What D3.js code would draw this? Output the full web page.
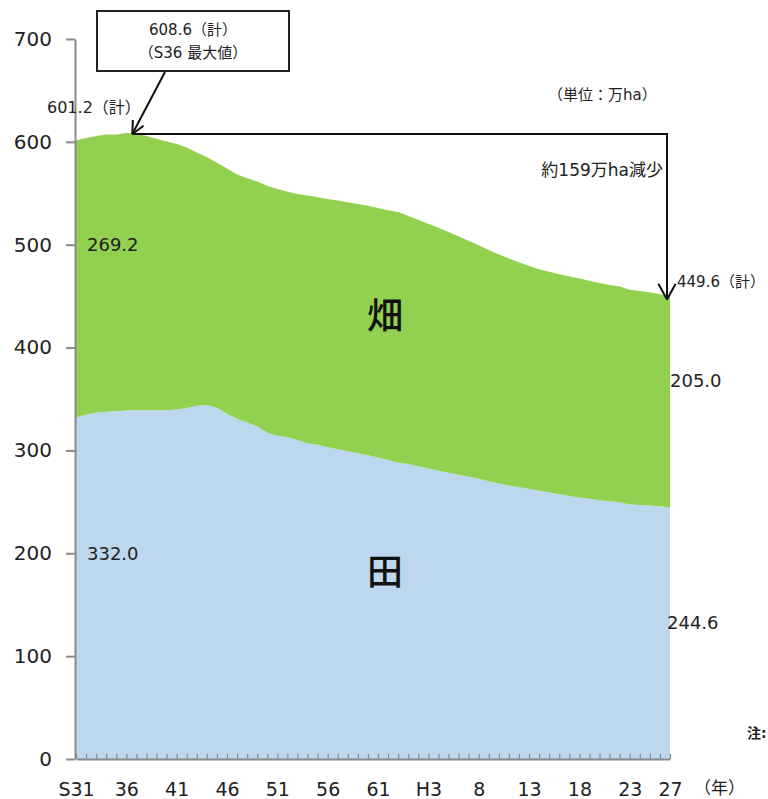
<!DOCTYPE html>
<html lang="ja">
<head>
<meta charset="utf-8">
<script src="https://cdn.jsdelivr.net/npm/d3@7"></script>
<style>
  html, body { margin: 0; padding: 0; background: #fff; }
  svg { display: block; }
  .lbl { font-family: "DejaVu Sans", "Noto Sans CJK JP", sans-serif; fill: #222; }
</style>
</head>
<body>
<svg id="chart" width="768" height="799"></svg>
<script>
// 耕地面積の推移（万ha）: 昭和31年〜平成27年
const years = [1956,1957,1958,1959,1960,1961,1962,1963,1964,1965,
               1966,1967,1968,1969,1970,1971,1972,1973,1974,1975,
               1976,1977,1978,1979,1980,1981,1982,1983,1984,1985,
               1986,1987,1988,1989,1990,1991,1992,1993,1994,1995,
               1996,1997,1998,1999,2000,2001,2002,2003,2004,2005,
               2006,2007,2008,2009,2010,2011,2012,2013,2014,2015];

// 田
const paddy = [332.0,334.9,336.6,337.5,338.1,338.8,339.0,339.1,339.1,339.1,
               339.9,341.3,343.4,344.1,341.5,335.6,330.9,327.1,323.4,317.1,
               314.3,312.9,310.2,307.1,305.5,303.1,301.2,299.2,297.2,295.2,
               293.2,290.6,288.3,286.8,284.6,282.5,280.2,278.2,276.4,274.5,
               272.4,270.1,267.9,265.9,264.1,262.4,260.7,259.2,257.5,255.6,
               254.3,253.0,251.6,250.6,249.6,247.4,246.9,246.5,245.8,244.6];

// 畑
const upland = [269.2,268.9,269.0,269.6,269.0,269.8,269.1,266.6,264.0,261.3,
                257.9,253.2,246.3,241.1,238.1,238.5,237.4,237.6,238.1,240.1,
                239.8,238.6,239.1,240.7,240.6,241.3,241.7,242.2,242.5,242.7,
                242.6,242.9,243.4,241.1,239.7,237.9,236.3,234.2,231.9,229.3,
                227.0,224.8,222.6,220.7,218.9,217.0,215.5,214.4,213.9,213.6,
                212.8,212.0,211.2,210.3,209.7,208.7,208.0,207.2,206.0,205.0];

// 計
const total = [601.2,603.8,605.6,607.1,607.1,608.6,608.1,605.7,603.1,600.4,
               597.8,594.5,589.7,585.2,579.6,574.1,568.3,564.7,561.5,557.2,
               554.1,551.5,549.3,547.8,546.1,544.4,542.9,541.4,539.7,537.9,
               535.8,533.5,531.7,527.9,524.3,520.4,516.5,512.4,508.3,503.8,
               499.4,494.9,490.5,486.6,483.0,479.4,476.2,473.6,471.4,469.2,
               467.1,465.0,462.8,460.9,459.3,456.1,454.9,453.7,451.8,449.6];

const xTickYears  = [1956,1961,1966,1971,1976,1981,1986,1991,1996,2001,2006,2011,2015];
const xTickLabels = ["S31","36","41","46","51","56","61","H3","8","13","18","23","27"];
const yTicks = [0,100,200,300,400,500,600,700];

const svg = d3.select("#chart");

const x = d3.scaleLinear().domain([years[0], years[years.length - 1]]).range([76, 670]);
const y = d3.scaleLinear().domain([0, 700]).range([759, 39]);

const rows = years.map((yr, i) => ({ year: yr, paddy: paddy[i], upland: upland[i] }));
const stack = d3.stack().keys(["paddy", "upland"]);
const series = stack(rows);
const colors = { paddy: "#BDD7EE", upland: "#92D050" };

const area = d3.area()
  .x(d => x(d.data.year))
  .y0(d => y(d[0]))
  .y1(d => y(d[1]));

svg.append("g").selectAll("path")
  .data(series)
  .join("path")
  .attr("d", area)
  .attr("fill", d => colors[d.key]);

// axes
const axisColor = "#8a8a8a";
const yAxis = svg.append("g")
  .attr("transform", "translate(75,0)")
  .call(d3.axisLeft(y).tickValues(yTicks).tickSize(9).tickSizeOuter(0).tickPadding(14));
yAxis.select(".domain").attr("stroke", axisColor).attr("stroke-width", 2);
yAxis.selectAll(".tick line").attr("stroke", axisColor).attr("stroke-width", 2);
yAxis.selectAll(".tick text").attr("class", "lbl").style("font-size", "20px");

const labelFor = new Map(xTickYears.map((yr, i) => [yr, xTickLabels[i]]));
const xAxis = svg.append("g")
  .attr("transform", "translate(0,759)")
  .call(d3.axisBottom(x).tickValues(years).tickSizeInner(-5).tickSizeOuter(0)
    .tickPadding(24).tickFormat(d => labelFor.get(d) || ""));
xAxis.select(".domain").attr("stroke", axisColor).attr("stroke-width", 2);
xAxis.selectAll(".tick line").attr("stroke", axisColor).attr("stroke-width", 1.2);
xAxis.selectAll(".tick text").attr("class", "lbl").style("font-size", "19px");

svg.append("text").attr("class", "lbl")
  .attr("x", 694).attr("y", 788)
  .attr("dominant-baseline", "central")
  .style("font-size", "17px")
  .text("（年）");

// value labels
const label = (tx, ty, txt, size, anchor) =>
  svg.append("text").attr("class", "lbl")
    .attr("x", tx).attr("y", ty)
    .attr("dominant-baseline", "central")
    .attr("text-anchor", anchor || "start")
    .style("font-size", size + "px")
    .text(txt);

label(87, 244, d3.format(".1f")(upland[0]), 18);
label(87, 553, d3.format(".1f")(paddy[0]), 18);
label(670, 380, d3.format(".1f")(upland[upland.length - 1]), 18);
label(667, 622, d3.format(".1f")(paddy[paddy.length - 1]), 18);

label(47, 107, d3.format(".1f")(total[0]) + "（計）", 16);
label(677, 282, d3.format(".1f")(total[total.length - 1]) + "（計）", 15);
label(548, 95, "（単位：万ha）", 15);
label(663, 170, "約159万ha減少", 17, "end");
svg.append("text").attr("class", "lbl")
  .attr("x", 747).attr("y", 733).attr("dominant-baseline", "central")
  .style("font-size", "14px").style("font-weight", "bold").text("注:");

// area names
svg.append("text")
  .attr("x", 385).attr("y", 313)
  .attr("text-anchor", "middle").attr("dominant-baseline", "central")
  .style("font-family", "'Noto Sans CJK JP', sans-serif")
  .style("font-size", "36px").style("font-weight", "500").attr("fill", "#111")
  .text("畑");
svg.append("text")
  .attr("x", 385).attr("y", 569)
  .attr("text-anchor", "middle").attr("dominant-baseline", "central")
  .style("font-family", "'Noto Sans CJK JP', sans-serif")
  .style("font-size", "36px").style("font-weight", "500").attr("fill", "#111")
  .text("田");

// peak callout and decrease arrow
const peakIdx = total.indexOf(d3.max(total));
const tip = [x(years[peakIdx]) + 6, y(total[peakIdx]) + 1];
const endTip = [x(years[years.length - 1]) - 3, y(total[total.length - 1]) + 3];
const ink = "#111";

function arrowHead(g, from, to, len, spread) {
  const ang = Math.atan2(to[1] - from[1], to[0] - from[0]);
  [-spread, spread].forEach(s => {
    g.append("line")
      .attr("x1", to[0]).attr("y1", to[1])
      .attr("x2", to[0] - len * Math.cos(ang + s))
      .attr("y2", to[1] - len * Math.sin(ang + s))
      .attr("stroke", ink).attr("stroke-width", 2);
  });
}

const ann = svg.append("g");
ann.append("rect")
  .attr("x", 97).attr("y", 11).attr("width", 192).attr("height", 60)
  .attr("fill", "#fff").attr("stroke", "#222").attr("stroke-width", 2);
ann.append("text").attr("class", "lbl")
  .attr("x", 193).attr("y", 30).attr("text-anchor", "middle").attr("dominant-baseline", "central")
  .style("font-size", "15px").text(d3.format(".1f")(total[peakIdx]) + "（計）");
ann.append("text").attr("class", "lbl")
  .attr("x", 193).attr("y", 53).attr("text-anchor", "middle").attr("dominant-baseline", "central")
  .style("font-size", "15px").text("（S36  最大値）");

const calloutStart = [165, 72];
ann.append("line")
  .attr("x1", calloutStart[0]).attr("y1", calloutStart[1])
  .attr("x2", tip[0]).attr("y2", tip[1])
  .attr("stroke", ink).attr("stroke-width", 2);
arrowHead(ann, calloutStart, tip, 14, 0.45);

ann.append("path")
  .attr("d", `M${tip[0]},${tip[1]} H${endTip[0]} V${endTip[1]}`)
  .attr("fill", "none").attr("stroke", ink).attr("stroke-width", 2);
arrowHead(ann, [endTip[0], tip[1]], endTip, 18, 0.5);
</script>
</body>
</html>
